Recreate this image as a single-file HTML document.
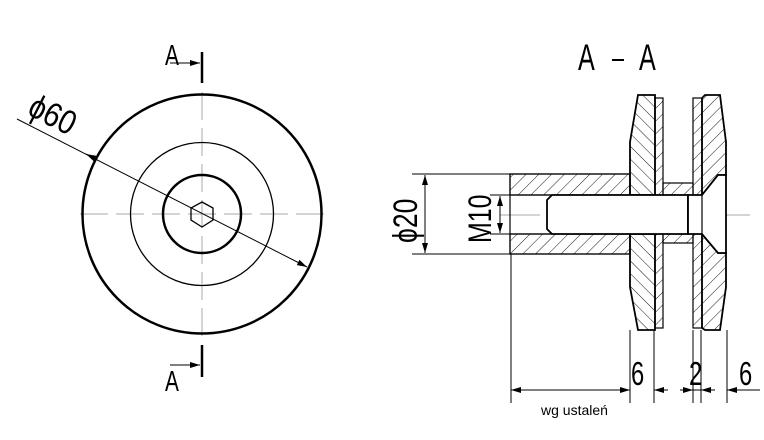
<!DOCTYPE html>
<html><head><style>body{margin:0;background:#fff}svg{display:block}</style></head><body>
<svg width="764" height="440" viewBox="0 0 764 440" xmlns="http://www.w3.org/2000/svg">
<defs>
<pattern id="h" patternUnits="userSpaceOnUse" width="9" height="9" patternTransform="rotate(45)"><line x1="0" y1="0" x2="0" y2="9" stroke="#000" stroke-width="0.9"/></pattern>
<pattern id="h2" patternUnits="userSpaceOnUse" width="9" height="9" patternTransform="rotate(-45)"><line x1="0" y1="0" x2="0" y2="9" stroke="#000" stroke-width="0.9"/></pattern>
<marker id="ar" markerWidth="10" markerHeight="6" refX="10" refY="3" orient="auto" markerUnits="userSpaceOnUse"><path d="M0,0 L10,3 L0,6z" fill="#000"/></marker>
<marker id="al" markerWidth="10" markerHeight="6" refX="0" refY="3" orient="auto" markerUnits="userSpaceOnUse"><path d="M10,0 L0,3 L10,6z" fill="#000"/></marker>
</defs>
<g font-family="Liberation Sans, sans-serif" fill="#000">
<g stroke="#aaa" stroke-width="1" stroke-dasharray="28,8">
<line x1="80" y1="214" x2="327" y2="214"/><line x1="202" y1="92" x2="202" y2="337"/>
</g>
<circle cx="202" cy="214" r="119.5" fill="none" stroke="#000" stroke-width="2.5"/>
<circle cx="202" cy="214" r="71.5" fill="none" stroke="#000" stroke-width="1.3"/>
<circle cx="202" cy="214" r="39" fill="none" stroke="#000" stroke-width="2.5"/>
<polygon points="202,202 213,208 213,220 202,227 191,220 191,208" fill="none" stroke="#000" stroke-width="1.3"/>
<line x1="17" y1="119" x2="307" y2="267" stroke="#000" stroke-width="1" marker-end="url(#ar)"/>
<line x1="96" y1="159" x2="86" y2="154" stroke="#000" stroke-width="1" marker-end="url(#ar)"/>
<text transform="translate(26,114) rotate(27) scale(0.85,1)" font-size="34">ϕ60</text>
<line x1="202" y1="52" x2="202" y2="83" stroke="#000" stroke-width="2.5"/>
<line x1="170" y1="63" x2="200" y2="63" stroke="#000" stroke-width="1" marker-end="url(#ar)"/>
<text transform="translate(165,65) scale(0.72,1)" font-size="29">A</text>
<line x1="202" y1="345" x2="202" y2="377" stroke="#000" stroke-width="2.5"/>
<line x1="170" y1="365" x2="200" y2="365" stroke="#000" stroke-width="1" marker-end="url(#ar)"/>
<text transform="translate(165,391) scale(0.72,1)" font-size="29">A</text>
<text transform="translate(578,70) scale(0.68,1)" font-size="37">A</text>
<line x1="612" y1="60" x2="624" y2="60" stroke="#000" stroke-width="2"/>
<text transform="translate(639,70) scale(0.68,1)" font-size="37">A</text>
<line x1="500" y1="215" x2="755" y2="215" stroke="#aaa" stroke-width="1" stroke-dasharray="40,8,14,8"/>
<g stroke="#000" stroke-width="1.2">
<rect x="510" y="174" width="120" height="21" fill="url(#h)"/>
<rect x="510" y="234" width="120" height="20" fill="url(#h)"/>
<rect x="510" y="174" width="120" height="80" fill="none"/>
<path d="M638,95 L655,95 L655,195 L630,195 L630,142 Z" fill="url(#h2)" stroke-width="1.8"/>
<path d="M630,234 L655,234 L655,330 L638,330 L630,287 Z" fill="url(#h2)" stroke-width="1.8"/>
<rect x="655" y="98" width="8" height="97" fill="url(#h)"/>
<rect x="655" y="234" width="8" height="94" fill="url(#h)"/>
<rect x="663" y="183" width="30" height="12" fill="url(#h)"/>
<rect x="663" y="234" width="30" height="9" fill="url(#h)"/>
<rect x="693" y="98" width="9" height="97" fill="url(#h)"/>
<rect x="693" y="234" width="9" height="94" fill="url(#h)"/>
<path d="M705,95 L720,95 L726,142 L726,175 L718,175 L702,195 L702,98 Z" fill="url(#h)" stroke-width="1.8"/>
<path d="M702,234 L718,253 L726,253 L726,287 L720,330 L705,330 L702,328 Z" fill="url(#h)" stroke-width="1.8"/>
<path d="M552,195 L688,195 L688,234 L552,234 L547,229 L547,200 Z" fill="#fff" stroke-width="1.8"/>
<path d="M688,195 L702,195 L718,175 L726,175 L726,253 L718,253 L702,234 L688,234 Z" fill="#fff" stroke-width="1.8"/>
<line x1="702" y1="195" x2="702" y2="234"/>
<line x1="510" y1="195" x2="552" y2="195"/><line x1="510" y1="234" x2="552" y2="234"/>
</g>
<g stroke="#000" stroke-width="1">
<line x1="412" y1="174" x2="510" y2="174"/><line x1="412" y1="254" x2="510" y2="254"/>
<line x1="425" y1="175" x2="425" y2="253" marker-start="url(#al)" marker-end="url(#ar)"/>
<line x1="490" y1="195" x2="510" y2="195"/><line x1="490" y1="234" x2="510" y2="234"/>
<line x1="500" y1="196" x2="500" y2="233" marker-start="url(#al)" marker-end="url(#ar)"/>
<line x1="511" y1="254" x2="511" y2="403"/><line x1="630" y1="330" x2="630" y2="403"/>
<line x1="654" y1="330" x2="654" y2="403"/><line x1="693" y1="330" x2="693" y2="403"/>
<line x1="701" y1="330" x2="701" y2="403"/><line x1="727" y1="330" x2="727" y2="403"/>
<line x1="511" y1="390" x2="630" y2="390" marker-start="url(#al)" marker-end="url(#ar)"/>
<line x1="654" y1="390" x2="668" y2="390" marker-start="url(#al)"/>
<line x1="680" y1="390" x2="693" y2="390" marker-end="url(#ar)"/>
<line x1="693" y1="390" x2="701" y2="390"/>
<line x1="701" y1="390" x2="715" y2="390" marker-start="url(#al)"/>
<line x1="727" y1="390" x2="760" y2="390" marker-start="url(#al)"/>
</g>
<text transform="translate(417,243) rotate(-90) scale(0.78,1)" font-size="34">ϕ20</text>
<text transform="translate(491,243) rotate(-90) scale(0.78,1)" font-size="32">M10</text>
<text transform="translate(631,385) scale(0.72,1)" font-size="33">6</text>
<text transform="translate(689,385) scale(0.72,1)" font-size="33">2</text>
<text transform="translate(739,385) scale(0.72,1)" font-size="33">6</text>
<text x="541" y="415" font-size="14">wg ustaleń</text>
</g>
</svg>
</body></html>
